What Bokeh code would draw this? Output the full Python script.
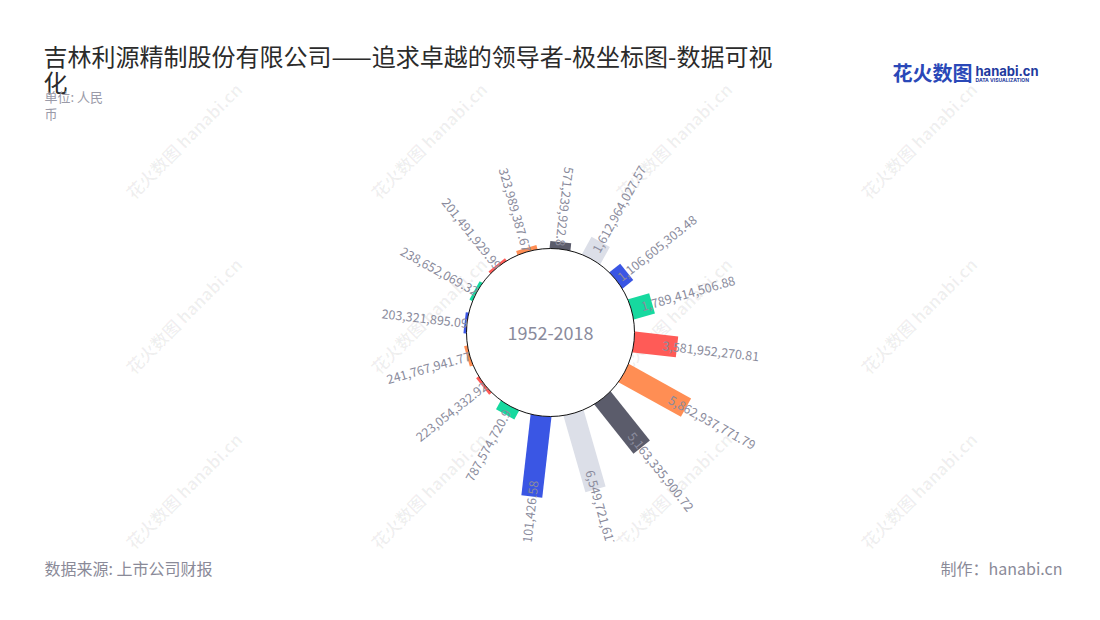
import math
from bokeh.plotting import figure
from bokeh.models import Range1d
from bokeh.embed import file_html
from bokeh.resources import INLINE
from bokeh.core.properties import value

# ---------------- data ----------------
values = [571239922.8, 1612964027.57, 1106605303.48, 1789414506.88,
          3581952270.81, 5862937771.79, 5163335900.72, 6549721617.35,
          6701101426.58, 787574720.9, 223054332.92, 241767941.77,
          203321895.09, 238652069.32, 201491929.99, 323989387.67]
colors = ["#5b5c6b", "#dcdfe8", "#3a56e4", "#16d99f", "#ff5b57", "#ff8e54",
          "#5b5c6b", "#dcdfe8", "#3a56e4", "#16d99f", "#ff5b57", "#ff8e54",
          "#3a56e4", "#16d99f", "#ff5b57", "#ff8e54"]
period = "1952-2018"
title_lines = ["吉林利源精制股份有限公司——追求卓越的领导者-极坐标图-数据可视", "化"]
unit_lines = ["单位: 人民", "币"]
source_txt = "数据来源: 上市公司财报"
maker_txt = "制作：hanabi.cn"


def fmt(v):
    s = f"{v:,.2f}".rstrip("0").rstrip(".")
    return s


labels = [fmt(v) for v in values]

# ---------------- figure (data units == screen pixels) ----------------
PAGE_H = 620
p = figure(width=1084, height=604, x_range=Range1d(0, 1084),
           y_range=Range1d(PAGE_H - 604, PAGE_H),
           output_backend="svg", toolbar_location=None, min_border=0,
           x_axis_location=None, y_axis_location=None)
p.grid.visible = False
p.outline_line_color = None
p.background_fill_color = "white"
p.border_fill_color = "white"

FONT = value("Noto Sans CJK SC")
LABEL_COLOR = "#8a8b9c"

cx, cy = 550, PAGE_H - 332
r0 = 84.0
k = 12.1e-9          # px per unit of value
theta0 = 6.5
step = 360.0 / len(values)
bar_w = 21

bx, by, bl, ba = [], [], [], []
lx_o, ly_o, la_o, lt_o = [], [], [], []
lx_i, ly_i, la_i, lt_i = [], [], [], []
for i, v in enumerate(values):
    th_deg = theta0 + step * i
    th = math.radians(th_deg)
    phi = math.pi / 2 - th
    L = v * k
    rm = r0 - 1 + L / 2
    bx.append(cx + rm * math.cos(phi))
    by.append(cy + rm * math.sin(phi))
    bl.append(L + 2)
    ba.append(phi)
    if 15 < th_deg < 185:
        ra = r0 + L - 8 - 0.15 * L
        lx_o.append(cx + ra * math.cos(phi))
        ly_o.append(cy + ra * math.sin(phi))
        la_o.append(phi)
        lt_o.append(labels[i])
    else:
        ra = r0 + L - 3 - 0.16 * L
        lx_i.append(cx + ra * math.cos(phi))
        ly_i.append(cy + ra * math.sin(phi))
        la_i.append(phi + math.pi)
        lt_i.append(labels[i])

# watermarks (page background)
wm_x, wm_y = [], []
for yy in [140, 315, 490]:
    for xx in [183, 428, 673, 918]:
        wm_x.append(xx)
        wm_y.append(PAGE_H - yy)
p.text(x=wm_x, y=wm_y, text=["花火数图 hanabi.cn"] * len(wm_x), angle=math.pi / 4,
       text_align="center", text_baseline="middle", text_font=FONT,
       text_font_size="17px", text_font_style="bold", text_color="#000000",
       text_alpha=0.06)

p.rect(x=bx, y=by, width=bl, height=bar_w, angle=ba, fill_color=colors,
       line_color=None)
p.circle(x=[cx], y=[cy], radius=r0, fill_color="white", line_color="#111111",
         line_width=1)

p.text(x=lx_o, y=ly_o, text=lt_o, angle=la_o, text_align="left",
       text_baseline="middle", text_font=FONT, text_font_size="12.5px",
       text_color=LABEL_COLOR)
p.text(x=lx_i, y=ly_i, text=lt_i, angle=la_i, text_align="right",
       text_baseline="middle", text_font=FONT, text_font_size="12.5px",
       text_color=LABEL_COLOR)

# chart area clip at the bottom
p.quad(left=[470], right=[640], bottom=[PAGE_H - 600], top=[PAGE_H - 541],
       fill_color="white", line_color=None)

p.text(x=[cx], y=[cy], text=[period], text_align="center", text_baseline="middle",
       text_font=FONT, text_font_size="18px", text_color=LABEL_COLOR)

# ---------------- header / footer ----------------
p.text(x=[43, 43], y=[PAGE_H - 55, PAGE_H - 81], text=title_lines, text_align="left",
       text_baseline="middle", text_font=FONT, text_font_size="24px",
       text_color="#2b2b2b")
p.text(x=[44, 44], y=[PAGE_H - 96, PAGE_H - 113], text=unit_lines, text_align="left",
       text_baseline="middle", text_font=FONT, text_font_size="13px",
       text_color="#9a9aa8")
p.text(x=[44], y=[PAGE_H - 567], text=[source_txt], text_align="left",
       text_baseline="middle", text_font=FONT, text_font_size="16px",
       text_color="#8a8a98")
p.text(x=[1062], y=[PAGE_H - 567], text=[maker_txt], text_align="right",
       text_baseline="middle", text_font=FONT, text_font_size="16px",
       text_color="#8a8a98")

# logo
p.text(x=[892], y=[PAGE_H - 72], text=["花火数图"], text_align="left",
       text_baseline="middle", text_font=FONT, text_font_size="20px",
       text_font_style="bold", text_color="#2a48b8")
p.text(x=[975], y=[PAGE_H - 70], text=["hanabi.cn"], text_align="left",
       text_baseline="middle", text_font=value("Inter"), text_font_size="13px",
       text_font_style="bold", text_color="#1e3a9e")
p.text(x=[975], y=[PAGE_H - 79], text=["DATA VISUALIZATION"], text_align="left",
       text_baseline="middle", text_font=value("Inter"), text_font_size="5px",
       text_font_style="bold", text_color="#1e3a9e")

open("out.html", "w").write(file_html(p, INLINE))
